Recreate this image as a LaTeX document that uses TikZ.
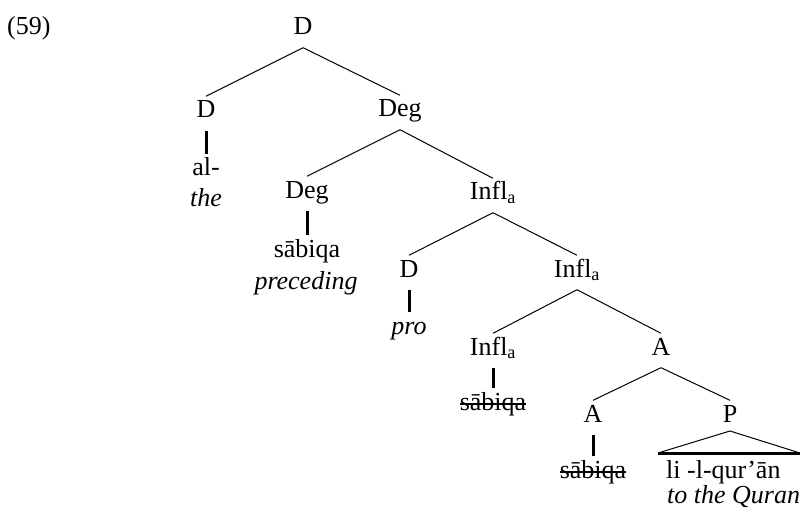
\documentclass[tikz,border=0pt]{standalone}
\usepackage{fontspec}
\setmainfont{Liberation Serif}
\usetikzlibrary{calc}
\begin{document}
\begin{tikzpicture}[x=1pt,y=-1pt,
  every node/.style={font=\fontsize{26}{31}\selectfont},
  cat/.style={anchor=base, inner xsep=0pt, inner ysep=4.5pt, text height=17pt, text depth=8pt},
  gloss/.style={anchor=base, inner sep=0pt, font=\fontsize{26}{31}\selectfont\itshape},
  branch/.style={line width=1pt},
  stem/.style={line width=3pt},
  strike/.style={line width=1.2pt}]
\useasboundingbox (0,0) rectangle (800,513);

\node[anchor=base west, inner sep=0pt] (ex) at (7,35) {(59)};

\node[cat] (n0) at (303,35) {D};
\node[cat] (n1) at (206,118) {D};
\node[cat] (w1) at (206,176) {al-};
\node[gloss] (g1) at (206,207) {the};
\node[cat] (n2) at (400,117) {Deg};
\node[cat] (n3) at (307,198) {Deg};
\node[cat] (w3) at (307,257) {sābiqa};
\node[gloss] (g3) at (306,289) {preceding};
\node[cat] (n4) at (493,200) {Infl\textsubscript{a}};
\node[cat] (n5) at (409,277) {D};
\node[gloss] (w5) at (409,334) {pro};
\node[cat] (w5c) at (409,334) {\phantom{pro}};
\node[cat] (n6) at (577,277) {Infl\textsubscript{a}};
\node[cat] (n7) at (493,355) {Infl\textsubscript{a}};
\node[cat] (w7) at (493,410) {sābiqa};
\node[cat] (n8) at (661,355) {A};
\node[cat] (n9) at (593,422) {A};
\node[cat] (w9) at (593,478) {sābiqa};
\node[cat] (n10) at (730,422) {P};
\node[anchor=base west, inner sep=0pt] (w10) at (666,478) {li -l-qur’ān};
\node[gloss, anchor=base west] (g10) at (667,503) {to the Quran};

% branches
\draw[branch] (n0.south) -- (n1.north);
\draw[branch] (n0.south) -- (n2.north);
\draw[branch] (n2.south) -- (n3.north);
\draw[branch] (n2.south) -- (n4.north);
\draw[branch] (n4.south) -- (n5.north);
\draw[branch] (n4.south) -- (n6.north);
\draw[branch] (n6.south) -- (n7.north);
\draw[branch] (n6.south) -- (n8.north);
\draw[branch] (n8.south) -- (n9.north);
\draw[branch] (n8.south) -- (n10.north);

% stems
\draw[stem] (n1.south) -- (w1.north);
\draw[stem] (n3.south) -- (w3.north);
\draw[stem] (n5.south) -- (w5c.north);
\draw[stem] (n7.south) -- (w7.north);
\draw[stem] (n9.south) -- (w9.north);

% strike-throughs
\draw[strike] ($(w7.base west)+(0pt,6pt)$) -- ($(w7.base east)+(0pt,6pt)$);
\draw[strike] ($(w9.base west)+(0pt,6pt)$) -- ($(w9.base east)+(0pt,6pt)$);

% triangle
\coordinate (tl) at (658,453);
\coordinate (tr) at (800,453);
\coordinate (ta) at ($(n10.base)+(0pt,-9pt)$);
\draw[branch] (tl) -- (ta) -- (tr);
\draw[stem] (tl) -- (tr);
\end{tikzpicture}
\end{document}
